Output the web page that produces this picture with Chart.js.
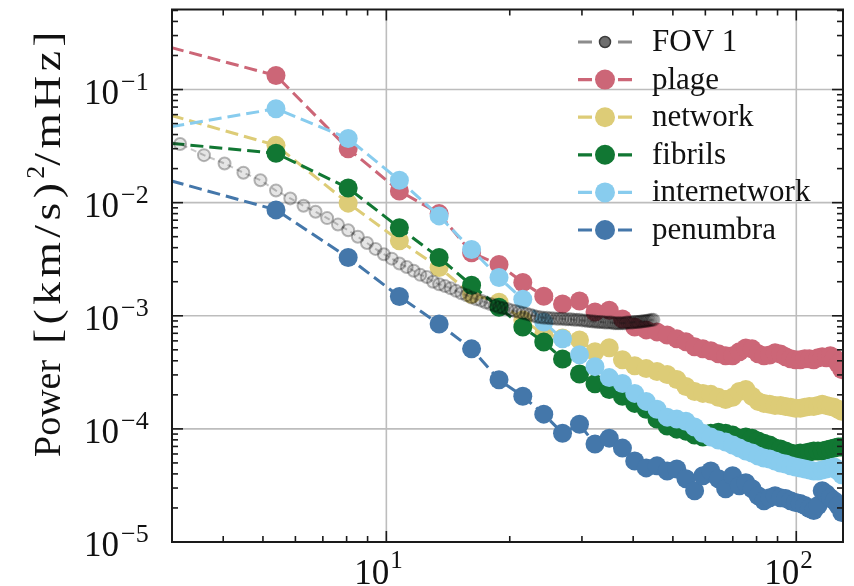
<!DOCTYPE html>
<html>
<head>
<meta charset="utf-8">
<title>Power spectra</title>
<script src="https://cdn.jsdelivr.net/npm/chart.js@4.4.1/dist/chart.umd.min.js"></script>
<style>
    html, body { margin: 0; padding: 0; background: #fff; }
    canvas { display: block; }
</style>
</head>
<body>
<canvas id="myChart" width="854" height="586" style="width:854px;height:586px"></canvas>
<script>
// Frequency grid of the region spectra (mHz)
const freq = [2.69, 5.38, 8.07, 10.76, 13.45, 16.14, 18.83, 21.52, 24.21, 26.9,
    29.59, 32.28, 34.97, 37.66, 40.35, 43.04, 45.73, 48.42, 51.11, 53.8,
    56.49, 59.18, 61.87, 64.56, 67.25, 69.94, 72.63, 75.32, 78.01, 80.7,
    83.39, 86.08, 88.77, 91.46, 94.15, 96.84, 99.53, 102.22, 104.91, 107.6,
    110.29, 112.98, 115.67, 118.36, 121.05, 123.74, 126.43, 129.12];

// Power per region, (km/s)^2/mHz
const plage = [0.26, 0.133, 0.030, 0.0127, 0.0080, 0.0036, 0.00284, 0.00197, 1.49e-3, 1.27e-3,
    1.35e-3, 1.08e-3, 1.12e-3, 9.35e-4, 7.96e-4, 7.5e-4, 7.2e-4, 6.77e-4, 6.25e-4, 5.88e-4,
    5.32e-4, 5.1e-4, 4.9e-4, 4.61e-4, 4.43e-4, 4.43e-4, 4.8e-4, 5.2e-4, 5.1e-4, 4.61e-4,
    4.43e-4, 4.5e-4, 4.7e-4, 4.6e-4, 4.34e-4, 4.17e-4, 4.08e-4, 4.08e-4, 4.17e-4, 4.17e-4,
    4.08e-4, 4.25e-4, 4.34e-4, 4.25e-4, 4.43e-4, 4.25e-4, 3.77e-4, 3.34e-4];

const network = [0.0658, 0.0321, 0.0099, 0.00461, 0.00267, 1.55e-3, 1.32e-3, 9.16e-4, 6.91e-4, 6.37e-4,
    6.12e-4, 4.81e-4, 5.21e-4, 4.08e-4, 3.62e-4, 3.41e-4, 3.21e-4, 3.02e-4, 2.73e-4, 2.37e-4,
    2.14e-4, 2.06e-4, 2.02e-4, 1.90e-4, 1.82e-4, 1.90e-4, 2.14e-4, 2.23e-4, 1.94e-4, 1.75e-4,
    1.68e-4, 1.65e-4, 1.61e-4, 1.61e-4, 1.58e-4, 1.55e-4, 1.52e-4, 1.52e-4, 1.55e-4, 1.58e-4,
    1.58e-4, 1.61e-4, 1.65e-4, 1.61e-4, 1.58e-4, 1.55e-4, 1.49e-4, 1.43e-4];

const fibrils = [0.0347, 0.0273, 0.01346, 6.0e-3, 3.27e-3, 1.86e-3, 1.19e-3, 7.94e-4, 5.85e-4, 4.15e-4,
    3.06e-4, 2.51e-4, 2.23e-4, 1.94e-4, 1.68e-4, 1.49e-4, 1.22e-4, 1.06e-4, 9.95e-5, 9.55e-5,
    8.81e-5, 8.46e-5, 9.16e-5, 9.35e-5, 9.16e-5, 8.81e-5, 8.28e-5, 8.46e-5, 8.28e-5, 7.8e-5,
    7.48e-5, 7.19e-5, 6.76e-5, 6.63e-5, 6.37e-5, 6.12e-5, 6.0e-5, 6.12e-5, 6.12e-5, 6.24e-5,
    6.37e-5, 6.37e-5, 6.37e-5, 6.5e-5, 6.63e-5, 6.76e-5, 6.9e-5, 6.9e-5];

const internetwork = [0.044, 0.0677, 0.0369, 0.0158, 7.64e-3, 3.85e-3, 2.18e-3, 1.4e-3, 8.79e-4, 6.25e-4,
    4.52e-4, 3.55e-4, 2.84e-4, 2.52e-4, 2.06e-4, 1.75e-4, 1.49e-4, 1.27e-4, 1.22e-4, 1.17e-4,
    1.04e-4, 9.16e-5, 8.46e-5, 7.96e-5, 7.64e-5, 7.19e-5, 6.76e-5, 6.37e-5, 6.12e-5, 5.76e-5,
    5.53e-5, 5.42e-5, 5.21e-5, 5.0e-5, 4.9e-5, 4.71e-5, 4.61e-5, 4.52e-5, 4.43e-5, 4.34e-5,
    4.25e-5, 4.25e-5, 4.34e-5, 4.43e-5, 4.52e-5, 4.61e-5, 4.25e-5, 3.93e-5];

const penumbra = [0.0173, 8.63e-3, 3.27e-3, 1.48e-3, 8.45e-4, 5.1e-4, 2.72e-4, 1.94e-4, 1.35e-4, 9.16e-5,
    1.10e-4, 7.34e-5, 8.28e-5, 6.76e-5, 5.21e-5, 4.52e-5, 4.71e-5, 4.25e-5, 4.43e-5, 3.62e-5,
    2.84e-5, 3.85e-5, 4.25e-5, 3.62e-5, 2.96e-5, 3.85e-5, 3.14e-5, 3.34e-5, 2.96e-5, 2.56e-5,
    2.32e-5, 2.46e-5, 2.56e-5, 2.46e-5, 2.42e-5, 2.32e-5, 2.23e-5, 2.19e-5, 2.1e-5, 1.98e-5,
    1.9e-5, 2.1e-5, 2.84e-5, 2.67e-5, 2.46e-5, 2.32e-5, 2.1e-5, 1.82e-5];

// Whole field of view, finer frequency grid
const fovFreq = [2.69, 3.14, 3.59, 4.03, 4.48, 4.93, 5.38, 5.83, 6.28, 6.72,
    7.17, 7.62, 8.07, 8.52, 8.97, 9.41, 9.86, 10.31, 10.76, 11.21,
    11.66, 12.10, 12.55, 13.00, 13.45, 13.90, 14.35, 14.79, 15.24, 15.69,
    16.14, 16.59, 17.04, 17.48, 17.93, 18.38, 18.83, 19.28, 19.73, 20.17,
    20.62, 21.07, 21.52, 21.97, 22.42, 22.86, 23.31, 23.76, 24.21, 24.66,
    25.11, 25.55, 26.00, 26.45, 26.90, 27.35, 27.80, 28.24, 28.69, 29.14,
    29.59, 30.04, 30.49, 30.93, 31.38, 31.83, 32.28, 32.73, 33.17, 33.62,
    34.07, 34.52, 34.97, 35.42, 35.86, 36.31, 36.76, 37.21, 37.66, 38.11,
    38.55, 39.00, 39.45, 39.90, 40.35, 40.80, 41.24, 41.69, 42.14, 42.59,
    43.04, 43.48, 43.93, 44.38, 44.83];

const fovPower = [0.037, 0.033, 0.0263, 0.0222, 0.0184, 0.0158, 0.0128, 0.0109, 0.0094, 0.0083,
    0.0073, 0.0064, 0.0057, 0.0050, 0.0044, 0.0039, 0.0035, 0.0032, 0.0029, 0.0027,
    0.0025, 0.0023, 0.0022, 0.0020, 0.0019, 0.00183, 0.00175, 0.00166, 0.00158, 0.00152,
    0.00145, 0.00140, 0.00136, 0.00131, 0.00127, 0.00123, 0.00119, 0.00117, 0.00115, 0.00112,
    0.00110, 0.00108, 0.00106, 0.00104, 0.00102, 0.00100, 0.00098, 0.00097, 0.00096, 0.00096,
    0.00095, 0.00095, 0.00094, 0.00094, 0.00094, 0.00093, 0.00093, 0.00093, 0.00092, 0.00092,
    0.00092, 0.00091, 0.00091, 0.00090, 0.00090, 0.00089, 0.00089, 0.00088, 0.00088, 0.00088,
    0.00087, 0.00087, 0.00087, 0.00087, 0.00086, 0.00086, 0.00086, 0.00086, 0.00086, 0.00086,
    0.00087, 0.00087, 0.00087, 0.00087, 0.00088, 0.00088, 0.00088, 0.00089, 0.00089, 0.00090,
    0.00090, 0.00091, 0.00091, 0.00092, 0.00092];

// Axis ticks
const xMajor = [10, 100];
const xMinor = [3, 4, 5, 6, 7, 8, 9, 20, 30, 40, 50, 60, 70, 80, 90];
const xExp = ['1', '2'];
const yMajor = [1e-5, 1e-4, 1e-3, 1e-2, 1e-1];
const yMinor = [2e-5, 3e-5, 4e-5, 5e-5, 6e-5, 7e-5, 8e-5, 9e-5,
    2e-4, 3e-4, 4e-4, 5e-4, 6e-4, 7e-4, 8e-4, 9e-4,
    2e-3, 3e-3, 4e-3, 5e-3, 6e-3, 7e-3, 8e-3, 9e-3,
    2e-2, 3e-2, 4e-2, 5e-2, 6e-2, 7e-2, 8e-2, 9e-2,
    0.2, 0.3, 0.4, 0.5];
const yExp = ['\u22125', '\u22124', '\u22123', '\u22122', '\u22121'];

const SERIF = '"Liberation Serif", "DejaVu Serif", serif';

function toPoints(xs, ys) {
    return xs.map((v, i) => ({ x: v, y: ys[i] }));
}

function regionSet(label, data, color, order) {
    return {
        label: label,
        data: toPoints(freq, data),
        borderColor: color,
        backgroundColor: color,
        borderWidth: 3,
        borderDash: [13, 6],
        pointRadius: 9.5,
        pointBorderWidth: 0,
        pointBackgroundColor: color,
        tension: 0,
        order: order
    };
}

function strokeLine(ctx, x1, y1, x2, y2) {
    ctx.beginPath();
    ctx.moveTo(x1, y1);
    ctx.lineTo(x2, y2);
    ctx.stroke();
}

// Grid, frame, inward ticks, labels and legend
const decorPlugin = {
    id: 'decor',
    beforeDatasetsDraw(chart) {
        const { ctx, chartArea: a, scales: { x, y } } = chart;
        ctx.save();
        ctx.strokeStyle = '#bdbdbd';
        ctx.lineWidth = 1.6;
        xMajor.forEach(v => {
            const px = x.getPixelForValue(v);
            strokeLine(ctx, px, a.top, px, a.bottom);
        });
        yMajor.forEach(v => {
            const py = y.getPixelForValue(v);
            strokeLine(ctx, a.left, py, a.right, py);
        });
        ctx.restore();
    },
    afterDatasetsDraw(chart) {
        const { ctx, chartArea: a, scales: { x, y } } = chart;
        ctx.save();
        ctx.strokeStyle = '#1a1a1a';
        ctx.lineWidth = 1.6;

        // ticks on all four sides, pointing in
        const tick = (list, len) => {
            list.forEach(v => {
                const px = x.getPixelForValue(v);
                if (px < a.left || px > a.right) return;
                strokeLine(ctx, px, a.bottom, px, a.bottom - len);
                strokeLine(ctx, px, a.top, px, a.top + len);
            });
        };
        const ytick = (list, len) => {
            list.forEach(v => {
                const py = y.getPixelForValue(v);
                if (py < a.top || py > a.bottom) return;
                strokeLine(ctx, a.left, py, a.left + len, py);
                strokeLine(ctx, a.right, py, a.right - len, py);
            });
        };
        tick(xMajor, 11);
        tick(xMinor, 6);
        ytick(yMajor, 11);
        ytick(yMinor, 6);

        ctx.lineWidth = 2;
        ctx.strokeRect(a.left, a.top, a.right - a.left, a.bottom - a.top);

        // tick labels 10^n
        ctx.fillStyle = '#111';
        ctx.textBaseline = 'alphabetic';
        xMajor.forEach((v, i) => {
            const px = x.getPixelForValue(v);
            ctx.font = '35px ' + SERIF;
            ctx.textAlign = 'right';
            ctx.fillText('10', px + 3, 584);
            ctx.font = '25px ' + SERIF;
            ctx.textAlign = 'left';
            ctx.fillText(xExp[i], px + 4, 568);
        });
        yMajor.forEach((v, i) => {
            const py = y.getPixelForValue(v);
            ctx.font = '35px ' + SERIF;
            ctx.textAlign = 'right';
            ctx.fillText('10', 119, py + 14);
            ctx.font = '26px ' + SERIF;
            ctx.textAlign = 'left';
            ctx.fillText(yExp[i], 121, py);
        });

        drawYTitle(ctx);
        drawLegend(ctx, chart.data.datasets);
        ctx.restore();
    }
};

// Rotated axis title; the bracket part is widened a little to match the original
function drawYTitle(ctx) {
    const parts = [
        { text: 'Power', size: 38, rise: 0, spread: false },
        { text: ' [(km/s)', size: 38, rise: 0, spread: true },
        { text: '2', size: 26, rise: 16, spread: false },
        { text: '/mHz]', size: 38, rise: 0, spread: true }
    ];
    const total = 430;
    const stretch = 1.2;
    let used = 0;
    let n = 0;
    parts.forEach(p => {
        ctx.font = p.size + 'px ' + SERIF;
        for (const ch of p.text) {
            const w = ctx.measureText(ch).width;
            used += p.spread ? w * stretch : w;
            if (p.spread) n++;
        }
    });
    const gap = n ? Math.max(0, (total - used) / n) : 0;

    ctx.save();
    ctx.translate(60, 242);
    ctx.rotate(-Math.PI / 2);
    ctx.textAlign = 'left';
    ctx.fillStyle = '#111';
    let pos = -total / 2;
    parts.forEach(p => {
        ctx.font = p.size + 'px ' + SERIF;
        for (const ch of p.text) {
            const w = ctx.measureText(ch).width;
            const k = p.spread ? stretch : 1;
            ctx.save();
            ctx.translate(pos, -p.rise);
            ctx.scale(k, 1);
            ctx.fillText(ch, 0, 0);
            ctx.restore();
            pos += w * k + (p.spread ? gap : 0);
        }
    });
    ctx.restore();
}

function drawLegend(ctx, datasets) {
    datasets.forEach((ds, i) => {
        const yy = 42 + i * 37.6;
        ctx.save();
        ctx.strokeStyle = ds.legendLine || ds.borderColor;
        ctx.lineWidth = 3.2;
        ctx.setLineDash([14, 26]);
        strokeLine(ctx, 578, yy, 632, yy);
        ctx.setLineDash([]);
        ctx.beginPath();
        ctx.arc(605, yy, ds.legendRadius || 10, 0, Math.PI * 2);
        ctx.fillStyle = ds.legendFill || ds.pointBackgroundColor;
        ctx.fill();
        if (ds.legendRing) {
            ctx.strokeStyle = ds.legendRing;
            ctx.lineWidth = 1.5;
            ctx.stroke();
        }
        ctx.fillStyle = '#111';
        ctx.font = '31px ' + SERIF;
        ctx.textAlign = 'left';
        ctx.textBaseline = 'alphabetic';
        ctx.fillText(ds.label, 652, yy + 9);
        ctx.restore();
    });
}

const ctx = document.getElementById('myChart').getContext('2d');

const myChart = new Chart(ctx, {
    type: 'line',
    data: {
        datasets: [
            {
                label: 'FOV 1',
                data: toPoints(fovFreq, fovPower),
                borderColor: 'rgba(70, 70, 70, 0.3)',
                borderWidth: 2,
                borderDash: [6, 4],
                pointRadius: 6,
                pointBorderWidth: 2,
                pointBackgroundColor: 'rgba(0, 0, 0, 0.1)',
                pointBorderColor: 'rgba(0, 0, 0, 0.28)',
                tension: 0,
                order: 0,
                legendLine: '#8c8c8c',
                legendFill: '#6e6e6e',
                legendRing: '#3c3c3c',
                legendRadius: 5.5
            },
            regionSet('plage', plage, '#CC6677', 5),
            regionSet('network', network, '#DDCC77', 4),
            regionSet('fibrils', fibrils, '#117733', 3),
            regionSet('internetwork', internetwork, '#88CCEE', 2),
            regionSet('penumbra', penumbra, '#4477AA', 1)
        ]
    },
    options: {
        responsive: false,
        animation: false,
        devicePixelRatio: 1,
        layout: { padding: { left: 172, right: 11, top: 5, bottom: 44 } },
        plugins: {
            legend: { display: false },
            tooltip: { enabled: false }
        },
        scales: {
            x: {
                type: 'logarithmic',
                min: 3,
                max: 130,
                ticks: { display: false },
                grid: { display: false, drawTicks: false },
                border: { display: false }
            },
            y: {
                type: 'logarithmic',
                min: 1e-5,
                max: 0.51,
                ticks: { display: false },
                grid: { display: false, drawTicks: false },
                border: { display: false }
            }
        }
    },
    plugins: [decorPlugin]
});
</script>
</body>
</html>
